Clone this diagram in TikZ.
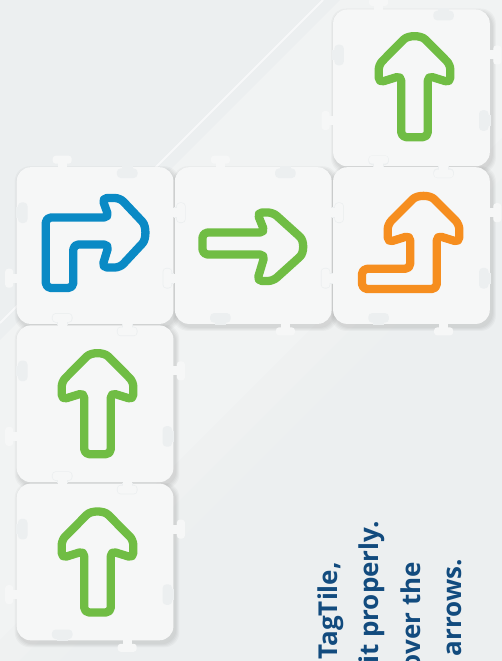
\documentclass[tikz,border=0pt]{standalone}
\usepackage{fontspec}
\setmainfont{Open Sans}
\definecolor{bgc}{HTML}{ECEFF0}
\definecolor{bgl}{HTML}{F1F3F3}
\definecolor{tilec}{HTML}{F6F7F7}
\definecolor{arrgreen}{HTML}{70BD44}
\definecolor{arrblue}{HTML}{0A8AC5}
\definecolor{arrorange}{HTML}{F68E1F}
\definecolor{txtblue}{HTML}{124B7E}
\tikzset{
  tabpic/.pic={\fill[tilec] (-4.5,1) rectangle (4.5,-4.5);
               \fill[tilec,rounded corners=3pt] (-9.5,-3.5) rectangle (9.5,-11.5);},
  slotpic/.pic={\fill[bgc] (-5.3,-1) rectangle (5.3,2);
                \fill[bgc,rounded corners=3.8pt] (-10.3,1.2) rectangle (10.3,10.8);},
  arrowline/.style={line width=8.3pt, line join=round, rounded corners=5pt},
  txt/.style={rotate=90, inner sep=0pt, text=txtblue, font=\bfseries\fontsize{26pt}{26pt}\selectfont},
  tileshadow/.style={fill=black, opacity=0.028, rounded corners=15pt},
  tilebody/.style={fill=tilec, rounded corners=14pt}
}
\newcommand\uparrowpath{(-14.1,14.2) .. controls (-6.3,6.4) and (6.3,6.4) .. (14.1,14.2)
  -- (35.8,36) -- (35.8,54) -- (13.3,47) -- (13.3,108.5) -- (-13.3,108.5) -- (-13.3,47)
  -- (-35.8,54) -- (-35.8,36) -- cycle}
\begin{document}
\begin{tikzpicture}[x=1pt,y=-1pt]
\useasboundingbox (0,0) rectangle (502,661);
\clip (0,0) rectangle (502,661);
% background
\fill[bgc] (0,0) rectangle (502,661);
\fill[bgl] (340,0) -- (640,0) -- (0,640) -- (0,340) -- cycle;
\fill[bgl, opacity=0.66] (640,0) -- (680,0) -- (0,680) -- (0,640) -- cycle;
\fill[bgl, opacity=0.33] (680,0) -- (720,0) -- (0,720) -- (0,680) -- cycle;
\draw[white, opacity=0.6, line width=2pt] (323,0) -- (0,323);
\def\tilelist{333.1/9.5, 16.7/167.2, 174.9/167.2, 333.1/167.2, 16.7/325.4, 16.7/483.6}
% shadows
\foreach \x/\y in \tilelist {
  \foreach \k in {1,2,3,4} {
    \fill[tileshadow] ({\x-\k+2},{\y-\k+3}) rectangle ({\x+156.7+\k+2},{\y+156.7+\k+3});
  }
}
% bodies
\foreach \x/\y in \tilelist {
  \fill[tilebody] (\x,\y) rectangle ({\x+156.7},{\y+156.7});
}
% slots
\foreach \x/\y in \tilelist {
  \pic at ({\x+110.5},{\y}) {slotpic};
  \pic[rotate=180] at ({\x+45.5},{\y+156.7}) {slotpic};
  \pic[rotate=90] at ({\x},{\y+45.5}) {slotpic};
  \pic[rotate=-90] at ({\x+156.7},{\y+111}) {slotpic};
}
% tabs
\foreach \x/\y in \tilelist {
  \pic at ({\x+45.5},{\y}) {tabpic};
  \pic[rotate=180] at ({\x+110.5},{\y+156.7}) {tabpic};
  \pic[rotate=90] at ({\x},{\y+111}) {tabpic};
  \pic[rotate=-90] at ({\x+156.7},{\y+45.5}) {tabpic};
}
% up arrows (green)
\begin{scope}[shift={(414.5,28.7)}]
  \draw[arrowline, arrgreen] \uparrowpath;
\end{scope}
\begin{scope}[shift={(97.5,345.7)}]
  \draw[arrowline, arrgreen] \uparrowpath;
\end{scope}
\begin{scope}[shift={(97.5,504)}]
  \draw[arrowline, arrgreen] \uparrowpath;
\end{scope}
% orange L-up arrow
\begin{scope}[shift={(423.5,188.4)}]
  \draw[arrowline, arrorange] (-14.1,14.2) .. controls (-6.3,6.4) and (6.3,6.4) .. (14.1,14.2)
    -- (35.8,36) -- (35.8,54) -- (13.3,47) -- (13.3,100.6) -- (-61.5,100.6) -- (-61.5,80.4)
    -- (-13.3,80.4) -- (-13.3,47) -- (-35.8,54) -- (-35.8,36) -- cycle;
\end{scope}
% blue L-right arrow
\draw[arrowline, arrblue] (138.9,218.0) .. controls (146.4,226.0) and (146.5,239.0) .. (139.0,247.1)
  -- (120,267.5) -- (102,267.5) -- (109,244.5) -- (73.3,244.5) -- (73.3,288) -- (45.8,288)
  -- (45.8,217.5) -- (109,217.5) -- (102,198) -- (120,198) -- cycle;
% green right arrow
\draw[arrowline, arrgreen] (296.2,233.4) .. controls (304.3,240.8) and (304.3,252.7) .. (296.2,260.1)
  -- (273,281) -- (257,281) -- (265,254.5) -- (202.5,254.5) -- (202.5,232.5) -- (265,232.5)
  -- (257,212.5) -- (273,212.5) -- cycle;
% text
\node[txt, anchor=base east] (t1) at (337.5,562) {TagTile,};
\node[txt, anchor=base east] (t2) at (378.5,521) {it properly.};
\node[txt, anchor=base east] (t3) at (420,562) {over the};
\node[txt, anchor=base east] (t4) at (461.5,559) {arrows.};
\end{tikzpicture}
\end{document}
